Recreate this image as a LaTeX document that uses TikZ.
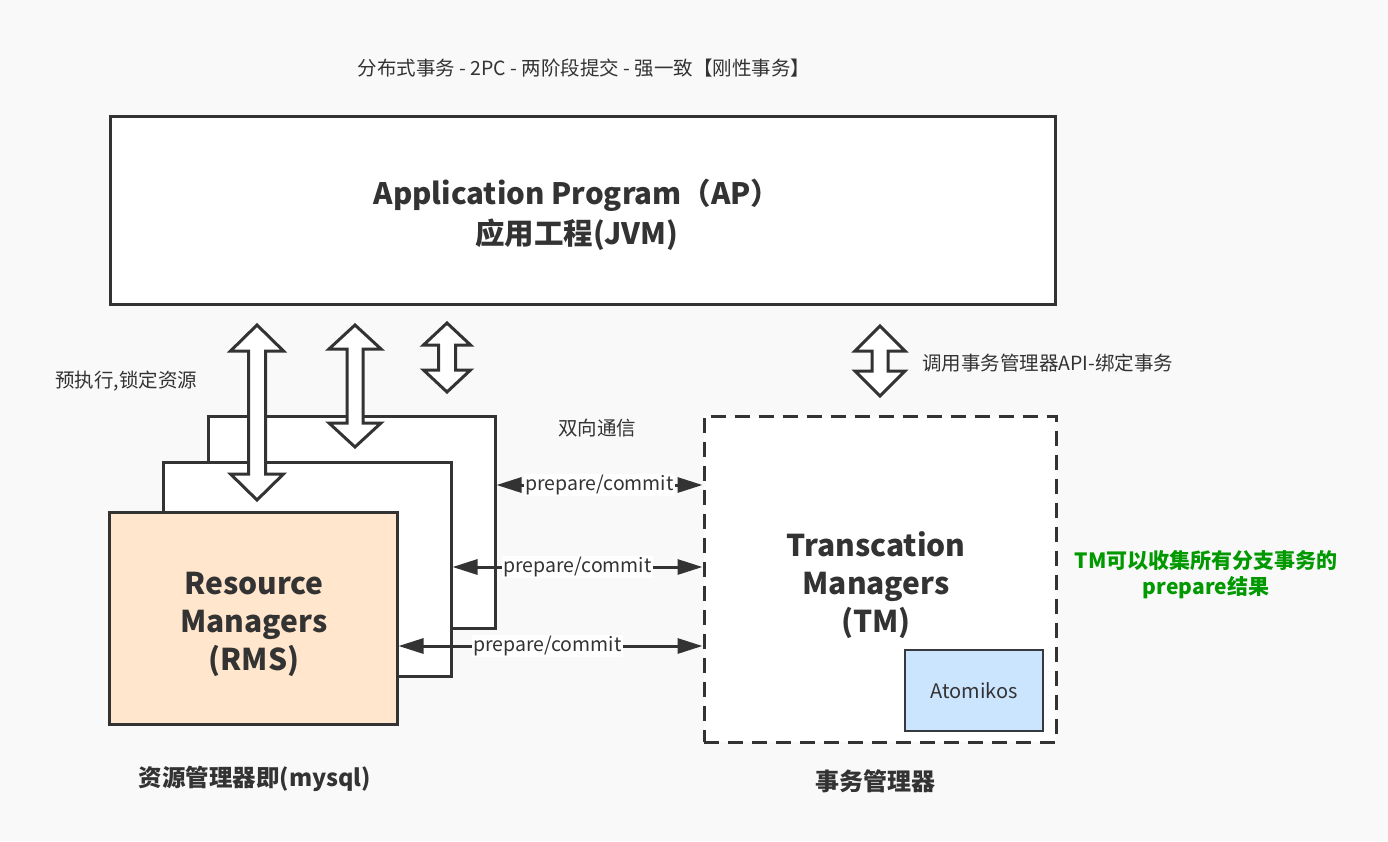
\documentclass[tikz,border=0pt]{standalone}
\usepackage{fontspec}
\setmainfont{Noto Sans CJK SC}
\usetikzlibrary{arrows.meta}
\definecolor{bg}{HTML}{F9F9F9}
\definecolor{ink}{HTML}{333333}
\definecolor{rmfill}{HTML}{FFE6CC}
\definecolor{atfill}{HTML}{CCE5FF}
\definecolor{atline}{HTML}{36393D}
\definecolor{grn}{HTML}{009900}
\newcommand\vdblarrow[6]{%
 \draw[blockarrow] (#1,#2) -- (#1+#5,#2+#6) -- (#1+#4,#2+#6) -- (#1+#4,#3-#6) -- (#1+#5,#3-#6) -- (#1,#3) -- (#1-#5,#3-#6) -- (#1-#4,#3-#6) -- (#1-#4,#2+#6) -- (#1-#5,#2+#6) -- cycle;}
\tikzset{
 box/.style={draw=ink, line width=3pt, fill=white, inner sep=0pt},
 blockarrow/.style={draw=ink, line width=3pt, fill=white, line join=miter},
 hconn/.style={draw=ink, line width=3pt, {Triangle[length=25pt,width=15pt]}-{Triangle[length=25pt,width=15pt]}},
 lbl/.style={fill=white, inner sep=1.5pt, text=ink, font=\fontsize{19.5}{22}\selectfont},
 plain/.style={text=ink, inner sep=0pt, font=\fontsize{19.5}{22}\selectfont},
 big/.style={text=ink, inner sep=0pt, align=center, font=\fontsize{30}{38}\selectfont\bfseries},
}
\begin{document}
\begin{tikzpicture}[x=1pt,y=-1pt]
\path[fill=bg,use as bounding box] (0,0) rectangle (1388,841);
% title
\node[plain] (title) at (584,68) {分布式事务 - 2PC - 两阶段提交 - 强一致【刚性事务】};
% AP
\node[box, minimum width=945pt, minimum height=188pt] (ap) at (582.5,210) {};
\node[big, font=\fontsize{29.5}{40}\selectfont\bfseries] (aptxt) at (577,215) {Application Program（AP）\\应用工程(JVM)};
% RM stack
\node[box, minimum width=287pt, minimum height=212pt] (rmA) at (351.5,522) {};
\node[box, minimum width=288pt, minimum height=214pt] (rmB) at (307,569) {};
\node[box, fill=rmfill, minimum width=288pt, minimum height=212pt] (rmC) at (253,618) {};
\node[big] (rmtxt) at (254,624) {Resource\\Managers\\(RMS)};
% TM
\node[box, dash pattern=on 15pt off 9pt, minimum width=352pt, minimum height=326pt] (tm) at (880,579) {};
\node[big] (tmtxt) at (876,585) {Transcation\\Managers\\(TM)};
\node[draw=atline, line width=1.3pt, fill=atfill, minimum width=138pt, minimum height=81pt, text=ink, font=\fontsize{20}{22}\selectfont] (atom) at (974,690.5) {Atomikos};
% block arrows
\vdblarrow{257}{325}{500}{8.5}{26.5}{26}
\vdblarrow{355}{325}{447}{8}{26}{24}
\vdblarrow{447}{323}{392}{8.5}{23.5}{22}
\vdblarrow{880}{326}{396}{8}{25}{25}
% labels
\node[plain, anchor=west] (pre) at (55,381) {预执行,锁定资源};
\node[plain, anchor=west] (api) at (922,363) {调用事务管理器API-绑定事务};
\node[plain] (bidir) at (597,428) {双向通信};
% horizontal connectors
\draw[hconn] (rmA.east |- 0,485) -- (tm.west |- 0,485) node[lbl, pos=0.5] (l1) {prepare/commit};
\draw[hconn] (rmB.east |- 0,567) -- (tm.west |- 0,567) node[lbl, pos=0.5] (l2) {prepare/commit};
\draw[hconn] (rmC.east |- 0,646) -- (tm.west |- 0,646) node[lbl, pos=0.49] (l3) {prepare/commit};
% bottom captions
\node[text=ink, font=\fontsize{23.5}{26}\selectfont\bfseries] (rmcap) at (255,779) {资源管理器即(mysql)};
\node[text=ink, font=\fontsize{24}{26}\selectfont\bfseries] (tmcap) at (875,781) {事务管理器};
\node[text=grn, align=center, font=\fontsize{21}{26}\selectfont\bfseries] (note) at (1206,575) {TM可以收集所有分支事务的\\prepare结果};
\end{tikzpicture}
\end{document}
